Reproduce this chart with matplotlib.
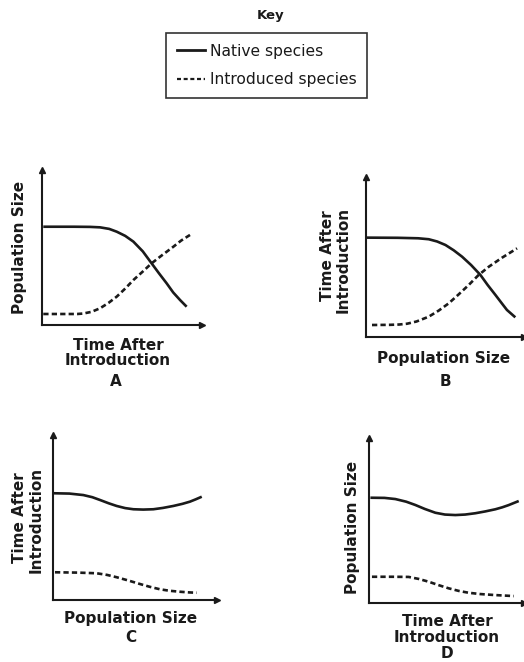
import numpy as np
import matplotlib
matplotlib.use("Agg")
import matplotlib.pyplot as plt
from matplotlib.lines import Line2D

W, H = 524, 662
INK = "#1a1a1a"

# curve values, axis units 0..10
a_nat_x = [0.08, 2.0, 3.0, 3.63, 4.2, 4.67, 5.2, 5.71, 6.3, 6.85, 7.3, 7.79, 8.2, 8.63, 9.04]
a_nat_y = [6.34, 6.34, 6.33, 6.30, 6.2, 6.02, 5.75, 5.38, 4.75, 3.98, 3.35, 2.69, 2.1, 1.61, 1.18]
a_int_x = [0.08, 1.5, 2.2, 2.58, 3.1, 3.63, 4.15, 4.67, 5.2, 5.71, 6.3, 6.85, 7.5, 8.21, 8.7, 9.25]
a_int_y = [0.71, 0.71, 0.71, 0.74, 0.85, 1.08, 1.42, 1.83, 2.35, 2.90, 3.45, 3.98, 4.5, 5.05, 5.45, 5.81]

b_nat_x = [0.06, 2.0, 3.3, 3.97, 4.5, 5.03, 5.55, 6.08, 6.65, 7.24, 7.7, 8.19, 8.6, 8.92, 9.45]
b_nat_y = [6.21, 6.2, 6.17, 6.11, 5.97, 5.75, 5.42, 5.02, 4.5, 3.88, 3.25, 2.63, 2.1, 1.69, 1.23]
b_int_x = [0.38, 1.5, 2.1, 2.6, 3.2, 3.97, 4.6, 5.23, 5.85, 6.5, 7.1, 7.77, 8.6, 9.56]
b_int_y = [0.75, 0.76, 0.78, 0.83, 0.97, 1.27, 1.65, 2.1, 2.65, 3.25, 3.85, 4.39, 4.95, 5.54]

c_nat_x = [0.02, 1.0, 1.85, 2.4, 2.87, 3.4, 3.88, 4.4, 4.9, 5.5, 6.12, 6.7, 7.34, 7.9, 8.35, 8.7, 9.07]
c_nat_y = [6.47, 6.45, 6.36, 6.23, 6.06, 5.86, 5.7, 5.57, 5.5, 5.48, 5.5, 5.58, 5.7, 5.83, 5.96, 6.1, 6.26]
c_int_x = [0.12, 1.5, 2.66, 3.3, 3.88, 4.6, 5.3, 5.9, 6.52, 7.1, 7.74, 8.3, 8.76]
c_int_y = [1.68, 1.66, 1.62, 1.52, 1.38, 1.18, 0.97, 0.8, 0.65, 0.56, 0.5, 0.46, 0.44]

d_nat_x = [0.09, 1.0, 1.7, 2.4, 2.99, 3.6, 4.28, 4.9, 5.57, 6.2, 6.86, 7.5, 8.15, 8.6, 9.0, 9.66]
d_nat_y = [6.38, 6.37, 6.3, 6.14, 5.94, 5.7, 5.47, 5.36, 5.33, 5.36, 5.44, 5.55, 5.68, 5.8, 5.93, 6.18]
d_int_x = [0.19, 1.5, 2.56, 3.2, 3.85, 4.5, 5.14, 5.8, 6.43, 7.2, 8.15, 9.34]
d_int_y = [1.59, 1.59, 1.58, 1.46, 1.29, 1.08, 0.89, 0.73, 0.62, 0.54, 0.48, 0.42]

legend_labels = ["Native species", "Introduced species"]
DOTS = (0, (2, 1.2))


def fx(x):
    return x / W


def fy(y):
    return 1 - y / H


def panel(fig, left, top, right, bottom, nat, intro):
    ax = fig.add_axes([fx(left), fy(bottom), fx(right - left), (bottom - top) / H])
    ax.plot(nat[0], nat[1], color=INK, lw=1.9, solid_capstyle="butt", solid_joinstyle="round")
    ax.plot(intro[0], intro[1], color=INK, lw=1.9, linestyle=DOTS)
    ax.set_xlim(0, 10)
    ax.set_ylim(0, 10)
    ax.set_xticks([]); ax.set_yticks([])
    for s in ["top", "right"]:
        ax.spines[s].set_visible(False)
    for s in ["left", "bottom"]:
        ax.spines[s].set_linewidth(1.5)
        ax.spines[s].set_color(INK)
    ax.plot(1, 0, ">", color=INK, ms=5, transform=ax.transAxes, clip_on=False)
    ax.plot(0, 1, "^", color=INK, ms=5, transform=ax.transAxes, clip_on=False)
    ax.patch.set_alpha(0)
    return ax


fig = plt.figure(figsize=(W / 100, H / 100), dpi=100)
lab = dict(fontsize=11, fontweight="bold", color=INK, ha="center", va="center")

# key
fig.text(fx(271), fy(16), "Key", fontsize=9.5, fontweight="bold", color=INK, ha="center", va="center")
handles = [Line2D([], [], color=INK, lw=2),
           Line2D([], [], color=INK, lw=1.6, linestyle=(0, (1.8, 1.2)))]
leg = fig.legend(handles, legend_labels, loc="upper left",
                 bbox_to_anchor=(fx(166), fy(33)), borderaxespad=0,
                 fontsize=11.2, handlelength=1.8, handletextpad=0.3,
                 labelspacing=0.85, borderpad=0.7, fancybox=False,
                 framealpha=1, edgecolor="#333333")
leg.get_frame().set_linewidth(1.2)
for t in leg.get_texts():
    t.set_color(INK)

# panel A
panel(fig, 42, 170, 202, 325, (a_nat_x, a_nat_y), (a_int_x, a_int_y))
fig.text(fx(20), fy(247), "Population Size", rotation=90, **lab)
fig.text(fx(118), fy(345), "Time After", **lab)
fig.text(fx(118), fy(361), "Introduction", **lab)
fig.text(fx(116), fy(382), "A", **lab)

# panel B
panel(fig, 366, 177, 524, 337, (b_nat_x, b_nat_y), (b_int_x, b_int_y))
fig.text(fx(327), fy(256), "Time After", rotation=90, **lab)
fig.text(fx(343), fy(260), "Introduction", rotation=90, **lab)
fig.text(fx(444), fy(358), "Population Size", **lab)
fig.text(fx(445), fy(382), "B", **lab)

# panel C
panel(fig, 53, 435, 217, 600, (c_nat_x, c_nat_y), (c_int_x, c_int_y))
fig.text(fx(20), fy(518), "Time After", rotation=90, **lab)
fig.text(fx(36), fy(520), "Introduction", rotation=90, **lab)
fig.text(fx(131), fy(618), "Population Size", **lab)
fig.text(fx(131), fy(637), "C", **lab)

# panel D
panel(fig, 369, 438, 524, 603, (d_nat_x, d_nat_y), (d_int_x, d_int_y))
fig.text(fx(353), fy(527), "Population Size", rotation=90, **lab)
fig.text(fx(447), fy(622), "Time After", **lab)
fig.text(fx(447), fy(638), "Introduction", **lab)
fig.text(fx(447), fy(653), "D", **lab)

fig.savefig("out.png", dpi=100)
